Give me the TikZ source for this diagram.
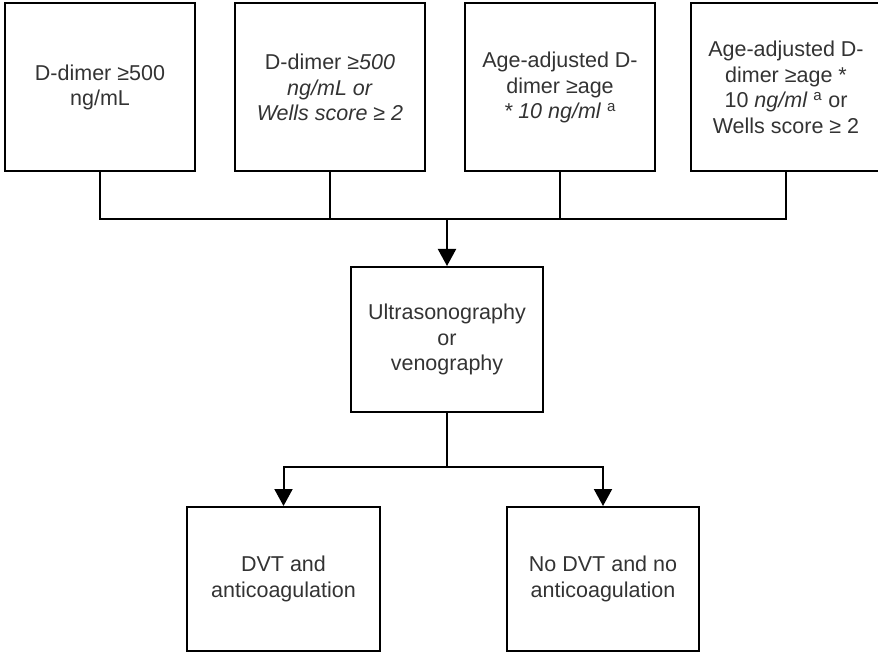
\documentclass[tikz,border=0pt]{standalone}
\usepackage{fontspec}
\setmainfont{Liberation Sans}
\usepackage{tikz}
\usetikzlibrary{positioning,arrows.meta}
\definecolor{txtgray}{HTML}{333333}

\begin{document}
\begin{tikzpicture}[x=1pt, y=1pt,
  box/.style={draw, line width=2pt, inner sep=0pt, align=center, text=txtgray,
    font=\fontsize{21.5}{25.5}\selectfont},
  topbox/.style={box, minimum width=190pt, minimum height=168pt},
  arr/.style={line width=2pt, -{Triangle[width=18pt, length=17pt]}}]
\useasboundingbox (0,0) rectangle (878,-652);
% criteria
\node[topbox] (dd) at (100,-87.5) {D-dimer ≥500\\ng/mL};
\node[topbox, right=38pt of dd] (ddwells) {D-dimer ≥\textit{500}\\\textit{ng/mL or}\\\textit{Wells score ≥ 2}};
\node[topbox, right=38pt of ddwells] (age) {Age-adjusted D-\\dimer ≥age\\\textit{* 10 ng/ml} \textsuperscript{a}};
\node[topbox, right=34pt of age] (agewells) {Age-adjusted D-\\dimer ≥age *\\10 \textit{ng/ml} \textsuperscript{a} or\\Wells score ≥ 2};
% imaging
\node[box, minimum width=192pt, minimum height=145pt] (imaging) at (447,-339.5) {Ultrasonography\\or\\venography};
% outcomes
\node[box, minimum width=193pt, minimum height=144pt] (dvt) at (283.5,-579) {DVT and\\anticoagulation};
\node[box, minimum width=192pt, minimum height=144pt] (nodvt) at (603,-579) {No DVT and no\\anticoagulation};
\coordinate (join) at (447,-219);
\coordinate (split) at (447,-467);
\draw[line width=2pt] (dd.south) |- (join);
\draw[line width=2pt] (agewells.south) |- (join);
\draw[line width=2pt] (ddwells.south) -- (ddwells.south |- join);
\draw[line width=2pt] (age.south) -- (age.south |- join);
\draw[arr] (join) -- (imaging);
\draw[line width=2pt] (imaging) -- (split);
\draw[arr] (split) -| (dvt);
\draw[arr] (split) -| (nodvt);
\end{tikzpicture}
\end{document}
